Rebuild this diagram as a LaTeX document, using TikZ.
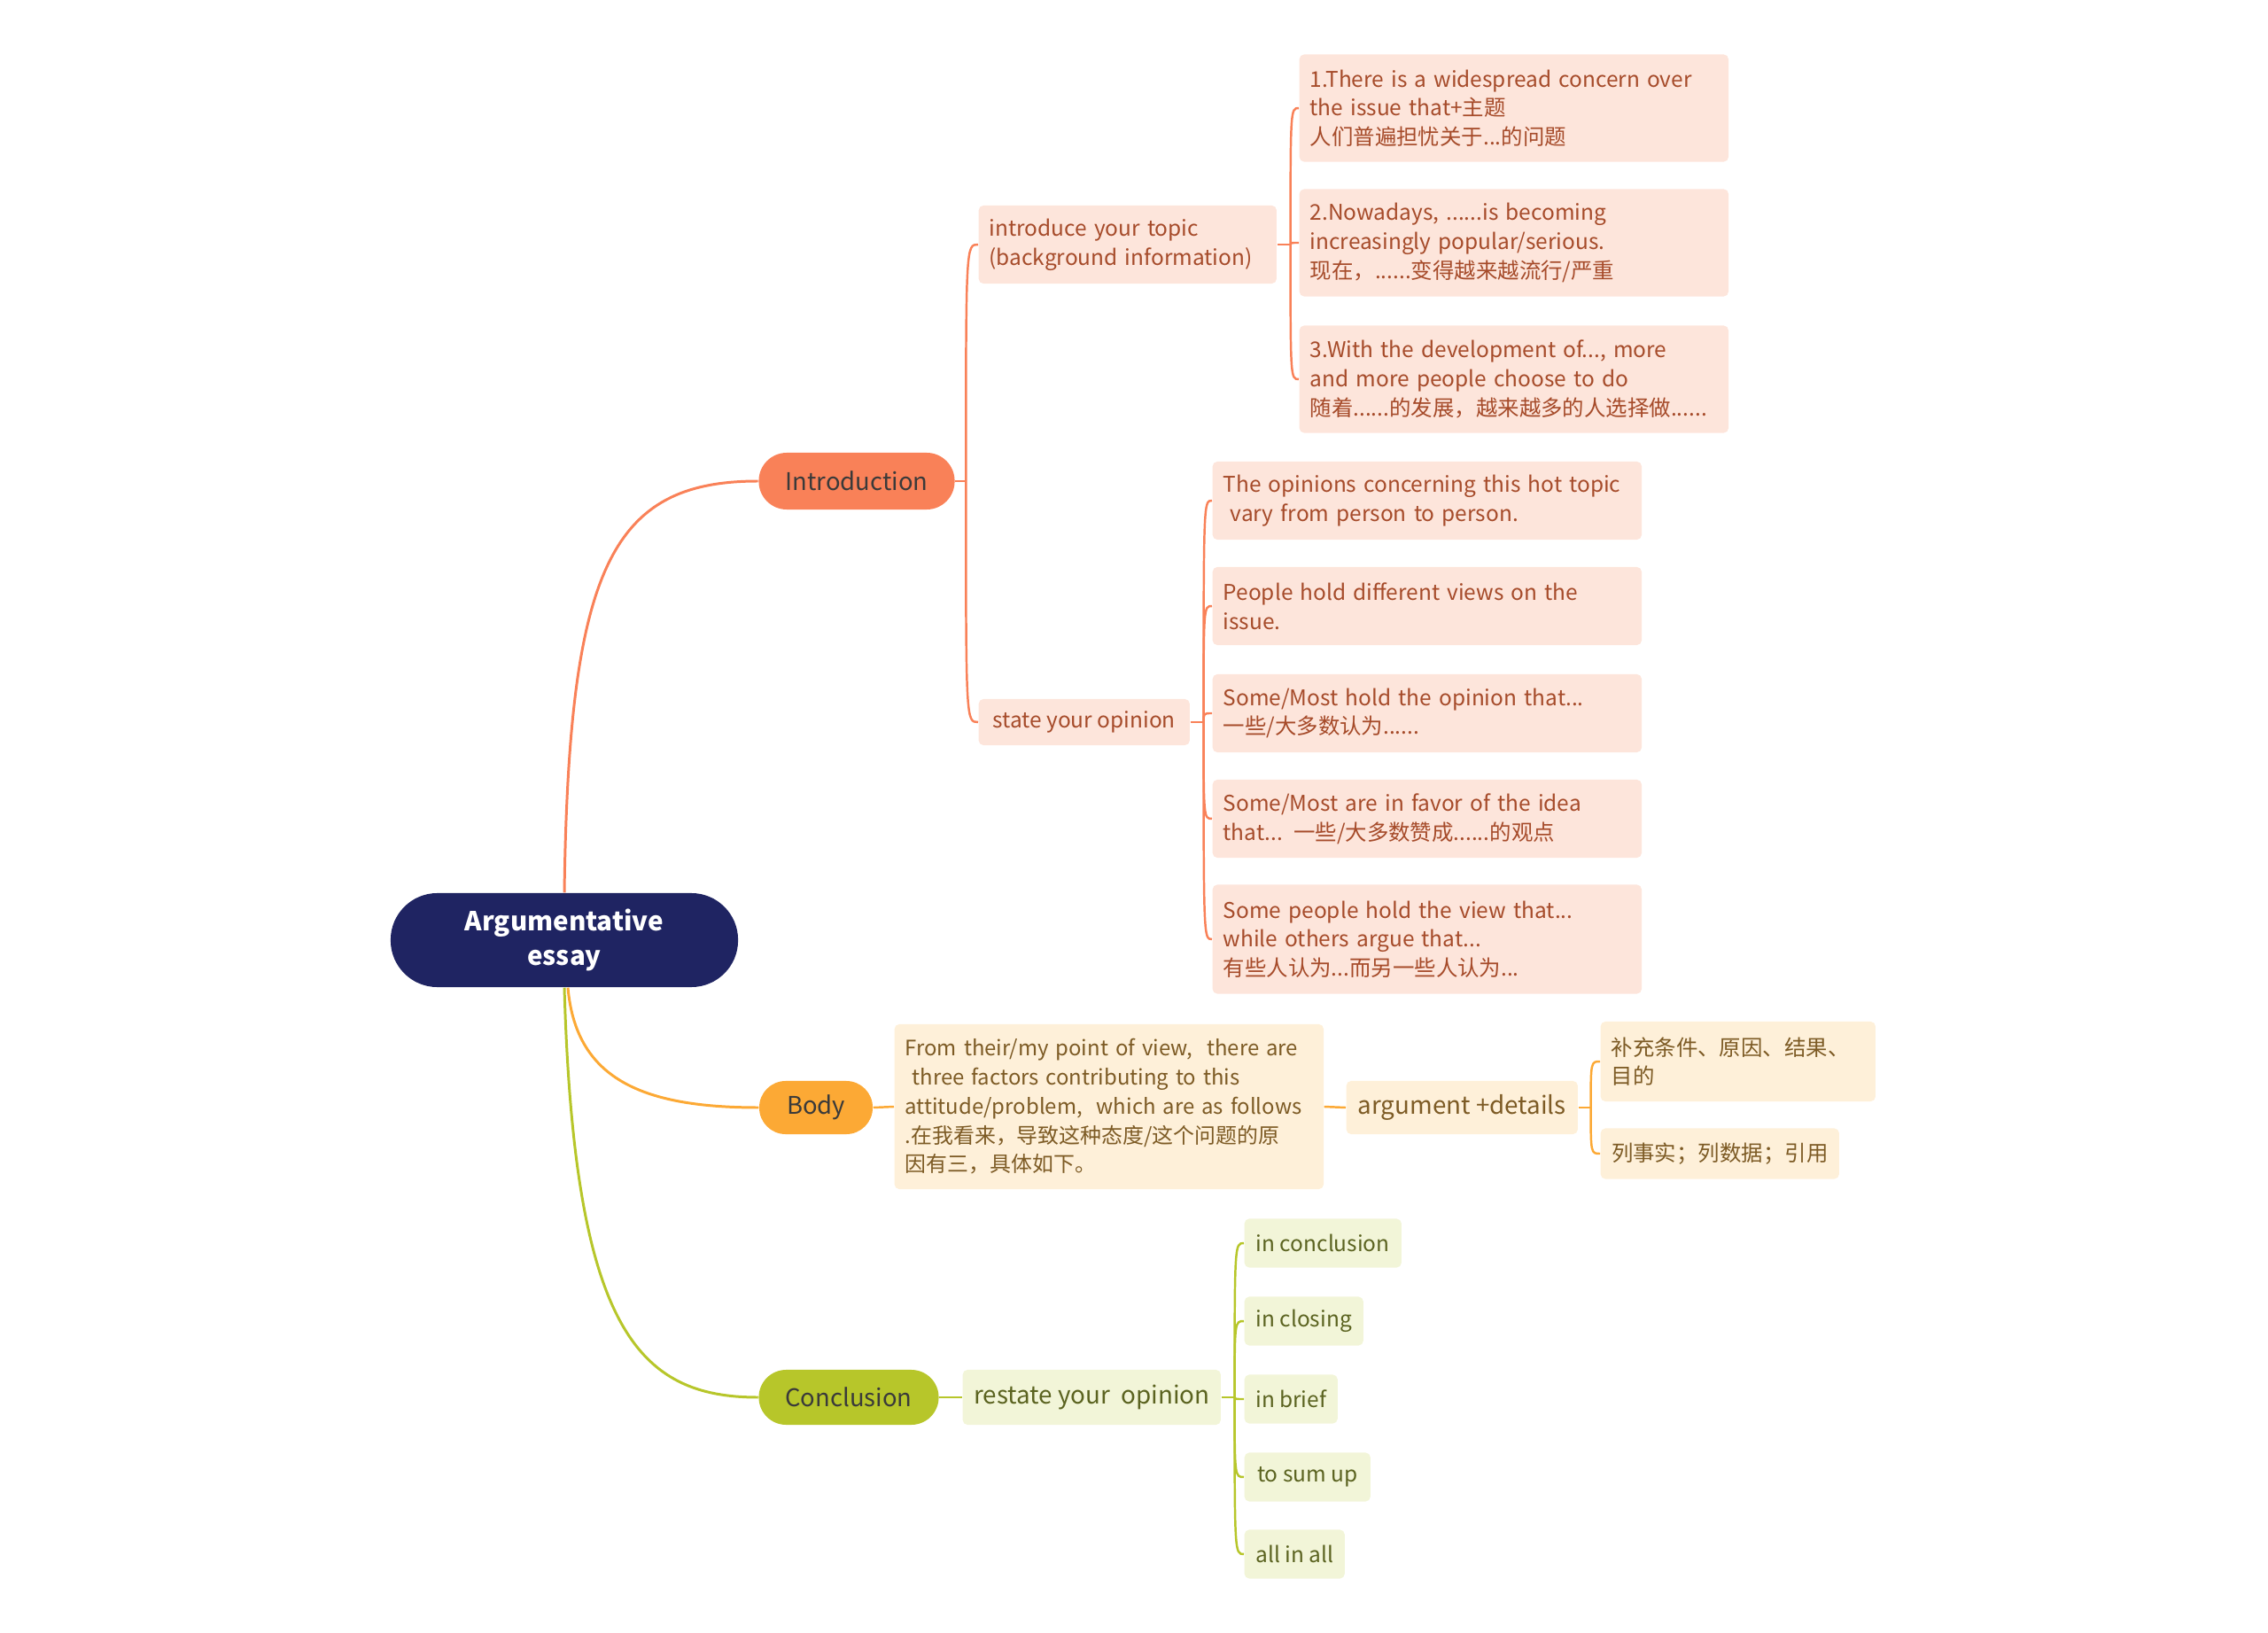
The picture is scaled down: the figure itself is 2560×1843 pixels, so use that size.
\documentclass[tikz,border=0pt]{standalone}
\usepackage{fontspec}
\setmainfont{Noto Sans CJK SC}
\definecolor{rootblue}{RGB}{31,36,98}
\definecolor{introc}{RGB}{249,129,88}
\definecolor{introfill}{RGB}{253,229,219}
\definecolor{introtext}{RGB}{166,75,42}
\definecolor{bodyc}{RGB}{252,169,53}
\definecolor{bodyfill}{RGB}{254,240,217}
\definecolor{bodytext}{RGB}{125,91,37}
\definecolor{conclc}{RGB}{183,198,42}
\definecolor{conclfill}{RGB}{242,245,216}
\definecolor{concltext}{RGB}{91,99,32}
\definecolor{pilltext}{RGB}{58,58,58}
\usepackage{tikz}
\usetikzlibrary{positioning}
\hyphenpenalty=10000
\exhyphenpenalty=10000
\tikzset{
  root/.style={fill=rootblue, text=white, rounded corners=15pt, minimum width=3.92cm,
              minimum height=1.06cm, inner sep=0pt, align=center,
              font=\fontsize{8.4pt}{11.1pt}\selectfont\bfseries},
  pill/.style={rounded corners=9pt, text=pilltext, minimum height=0.64cm, inner sep=0pt,
              font=\fontsize{7.8pt}{9.6pt}\selectfont},
  leaf/.style={rounded corners=1.5pt, anchor=west, inner xsep=0.12cm, inner ysep=0pt,
              align=left, font=\fontsize{6.95pt}{9.3pt}\selectfont},
  ileaf/.style={leaf, fill=introfill, text=introtext},
  bleaf/.style={leaf, fill=bodyfill, text=bodytext},
  cleaf/.style={leaf, fill=conclfill, text=concltext},
  midfont/.style={font=\fontsize{7.9pt}{10pt}\selectfont},
  iline/.style={introc, line width=0.7pt},
  bline/.style={bodyc, line width=0.7pt},
  cline/.style={conclc, line width=0.7pt},
}
\begin{document}
\begin{tikzpicture}[x=0.01cm,y=-0.01cm]
    \useasboundingbox (0,0) rectangle (2560,1843);
    % main topics
    \node[root] (essay) at (637,1061) {Argumentative\\essay};
    \node[pill, fill=introc, minimum width=2.21cm] (intro) at (967,543) {Introduction};
    \node[pill, fill=bodyc, minimum width=1.28cm, minimum height=0.6cm, rounded corners=8.5pt] (body) at (921,1250) {Body};
    \node[pill, fill=conclc, minimum width=2.03cm, minimum height=0.62cm, rounded corners=8.8pt] (concl) at (958,1577) {Conclusion};
    \draw[iline, line width=0.85pt] (essay.north) .. controls (642,640) and (690,543) .. (intro.west);
    \draw[bline, line width=0.85pt] ([xshift=0.04cm]essay.south) .. controls (650,1215) and (720,1250) .. (body.west);
    \draw[cline, line width=0.85pt] (essay.south) .. controls (648,1500) and (720,1577) .. (concl.west);
    % introduction
    \node[ileaf, text width=3.12cm, minimum height=0.88cm] (topic) at (1104,276) {introduce your topic\\(background information)};
    \node[ileaf, minimum width=2.38cm, minimum height=0.52cm] (state) at (1104,815) {state your opinion};
    \node[ileaf, text width=4.6cm, minimum height=1.21cm] (t1) at (1466,122) {1.There is a widespread concern over\\the issue that+主题\\人们普遍担忧关于...的问题};
    \node[ileaf, text width=4.6cm, minimum height=1.21cm] (t2) at (1466,274) {2.Nowadays, ......is becoming\\increasingly popular/serious.\\现在，......变得越来越流行/严重};
    \node[ileaf, text width=4.6cm, minimum height=1.21cm] (t3) at (1466,428) {3.With the development of..., more\\and more people choose to do\\随着......的发展，越来越多的人选择做......};
    \node[ileaf, text width=4.6cm, minimum height=0.88cm] (o1) at (1368,565) {The opinions concerning this hot topic\\\ vary from person to person.};
    \node[ileaf, text width=4.6cm, minimum height=0.88cm] (o2) at (1368,684) {People hold different views on the\\issue.};
    \node[ileaf, text width=4.6cm, minimum height=0.88cm] (o3) at (1368,805) {Some/Most hold the opinion that...\\一些/大多数认为......};
    \node[ileaf, text width=4.6cm, minimum height=0.88cm] (o4) at (1368,924) {Some/Most are in favor of the idea\\that... 一些/大多数赞成......的观点};
    \node[ileaf, text width=4.6cm, minimum height=1.23cm] (o5) at (1368,1060) {Some people hold the view that...\\while others argue that...\\有些人认为...而另一些人认为...};
    \coordinate (ji) at ([xshift=0.12cm]intro.east);
    \coordinate (jt) at ([xshift=0.15cm]topic.east);
    \coordinate (js) at ([xshift=0.15cm]state.east);
    \draw[iline] (intro.east) -- (ji);
    \draw[iline] (topic.east) -- (jt);
    \draw[iline] (state.east) -- (js);
    \foreach \c in {topic,state}
      \draw[iline] (ji) .. controls (ji |- \c.west) .. (\c.west);
    \foreach \c in {t1,t2,t3}
      \draw[iline] (jt) .. controls (jt |- \c.west) .. (\c.west);
    \foreach \c in {o1,o2,o3,o4,o5}
      \draw[iline] (js) .. controls (js |- \c.west) .. (\c.west);
    % body
    \node[bleaf, text width=4.6cm, minimum height=1.86cm, font=\fontsize{6.8pt}{9.3pt}\selectfont] (view) at (1009,1249) {From their/my point of view,\ \ there are\\\ three factors contributing to this\\attitude/problem,\ \ which are as follows\\.在我看来，导致这种态度/这个问题的原\\因有三，具体如下。};
    \node[bleaf, midfont, minimum width=2.61cm, minimum height=0.6cm] (arg) at (1519,1250) {argument +details};
    \node[bleaf, text width=2.86cm, minimum height=0.9cm] (supp) at (1806,1198) {补充条件、原因、结果、\\目的};
    \node[bleaf, minimum width=2.69cm, minimum height=0.57cm] (fact) at (1806,1302) {列事实；列数据；引用};
    \coordinate (ja) at ([xshift=0.14cm]arg.east);
    \draw[bline] (body.east) -- (view.west);
    \draw[bline] (view.east) -- (arg.west);
    \draw[bline] (arg.east) -- (ja);
    \foreach \c in {supp,fact}
      \draw[bline] (ja) .. controls (ja |- \c.west) .. (\c.west);
    % conclusion
    \node[cleaf, midfont, minimum width=2.91cm, minimum height=0.62cm] (restate) at (1086,1577) {restate your\ \ opinion};
    \foreach \n/\y/\w/\t in {k1/1403/1.77cm/in conclusion,k2/1491/1.34cm/in closing,
        k3/1579/1.05cm/in brief,k4/1667/1.42cm/to sum up,k5/1754/1.13cm/all in all}
      \node[cleaf, minimum width=\w, minimum height=0.55cm] (\n) at (1404,\y) {\t};
    \coordinate (jr) at ([xshift=0.15cm]restate.east);
    \draw[cline] (concl.east) -- (restate.west);
    \draw[cline] (restate.east) -- (jr);
    \foreach \c in {k1,k2,k3,k4,k5}
      \draw[cline] (jr) .. controls (jr |- \c.west) .. (\c.west);
\end{tikzpicture}
\end{document}
